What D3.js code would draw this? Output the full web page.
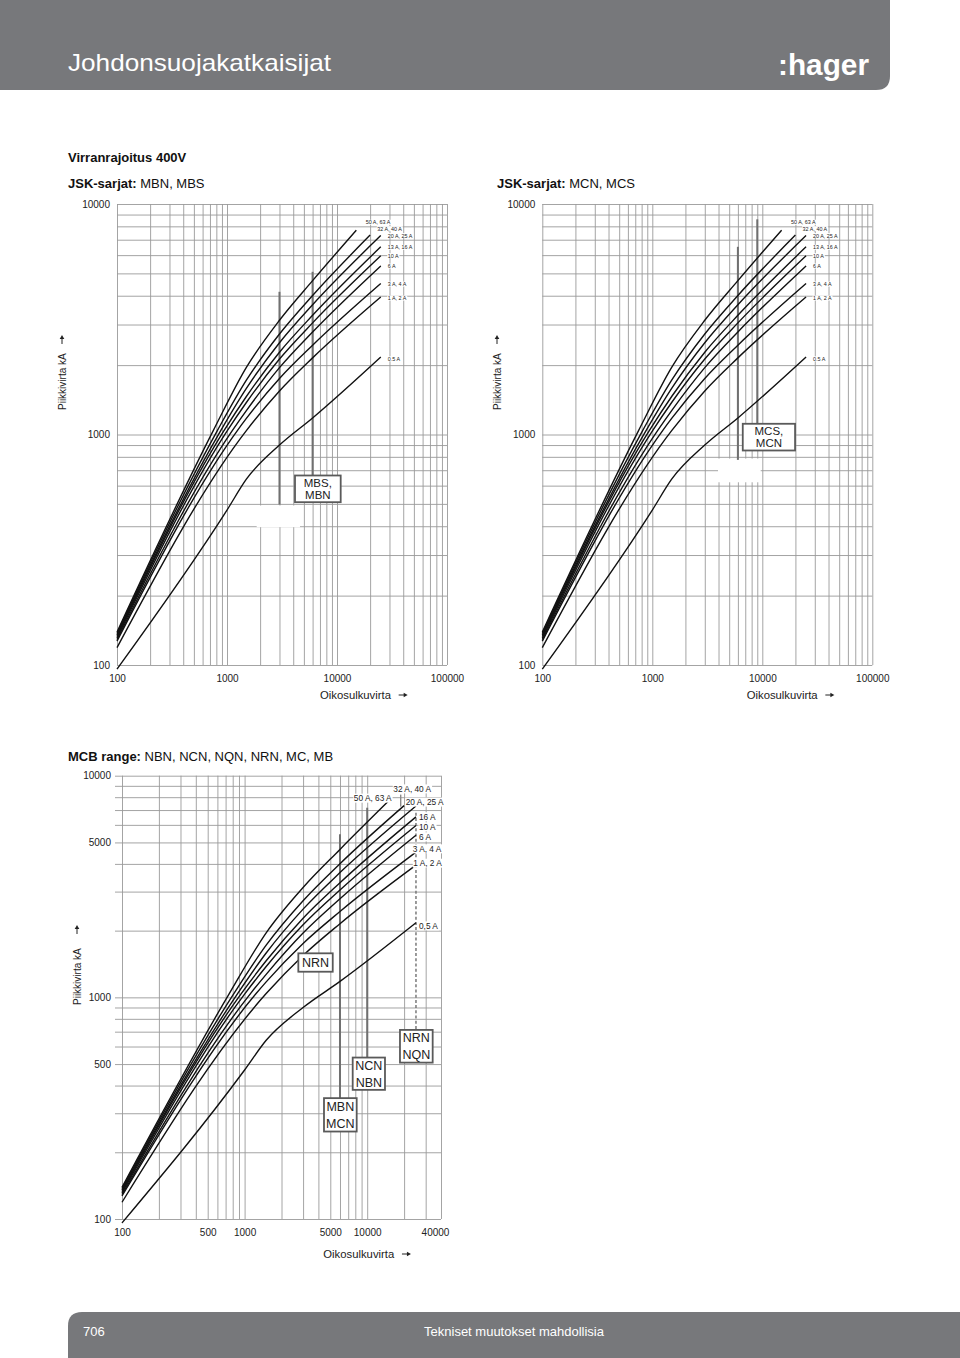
<!DOCTYPE html>
<html><head><meta charset="utf-8"><title>Virranrajoitus 400V</title>
<script src="https://cdn.jsdelivr.net/npm/d3@7/dist/d3.min.js"></script>
<style>
html,body{margin:0;padding:0;background:#fff;}
svg{display:block;}
text{font-family:"Liberation Sans",Arial,Helvetica,sans-serif;}
</style></head><body>
<svg id="page" width="960" height="1358"></svg>
<script>
// ---------------- DATA ----------------
const xTicksTop = [100, 1000, 10000, 100000];
const yTicksTop = [100, 1000, 10000];
const xTicksMCB = [100, 500, 1000, 5000, 10000, 40000];
const yTicksMCB = [100, 500, 1000, 5000, 10000];

const labelsJSK = ["50 A, 63 A", "32 A, 40 A", "20 A, 25 A", "13 A, 16 A", "10 A", "6 A", "3 A, 4 A", "1 A, 2 A", "0.5 A"];
const labelsMCB = ["50 A, 63 A", "32 A, 40 A", "20 A, 25 A", "16 A", "10 A", "6 A", "3 A, 4 A", "1 A, 2 A", "0,5 A"];

// [prospective short-circuit current, let-through peak] pairs
const curve50_63 = [[100,139],[750,1040],[1500,1955],[3000,3130],[6000,4650],[15000,7700]];
const curve32_40 = [[100,137],[817,1040],[1500,1720],[3000,2729],[6000,4010],[20000,7330]];
const curve20_25 = [[100,135],[877,1040],[1500,1585],[3000,2500],[6000,3655],[25000,7300]];
const curve13_16 = [[100,133],[939,1040],[1500,1462],[3000,2275],[6000,3290],[25000,6520]];
const curve10 = [[100,131],[1007,1040],[1500,1377],[3000,2125],[6000,3050],[25000,5960]];
const curve6 = [[100,129],[1117,1040],[1500,1270],[3000,1950],[6000,2785],[25000,5390]];
const curve3_4 = [[100,127],[1242,1040],[1500,1174],[3000,1750],[6000,2440],[25000,4520]];
const curve1_2 = [[100,119],[1500,1040],[3000,1545],[6000,2150],[25000,3950]];
const curve05 = [[100,96],[1000,470],[1500,640],[3000,900],[6000,1180],[25000,2170]];
const curves = [curve50_63, curve32_40, curve20_25, curve13_16, curve10, curve6, curve3_4, curve1_2, curve05];

// marker lines: [current, top peak value, bottom peak value]
const markersMBS = [[3000, 4160, 497], [6000, 5080, 664]];
const markersMCS = [[6000, 6520, 776], [9000, 8580, 1113]];
const markersMCB = [[6000, 5450, 351], [10000, 7170, 535], [25000, 6810, 713]];

const boxMBS = ["MBS,", "MBN"];
const boxMCS = ["MCS,", "MCN"];
const boxesMCB = [["MBN", "MCN"], ["NCN", "NBN"], ["NRN", "NQN"]];
const boxNRN = ["NRN"];
const boxNRNpos = [3790, 1580];

// ---------------- DRAWING ----------------
const svg = d3.select("#page");
const GREY = "#77787b";

// header band
svg.append("path").attr("d", "M0,0 H890 V76 Q890,90 876,90 H0 Z").attr("fill", GREY);
svg.append("text").attr("x", 68).attr("y", 71).attr("fill", "#fff")
  .attr("font-size", 24).attr("textLength", 263).attr("lengthAdjust", "spacingAndGlyphs")
  .text("Johdonsuojakatkaisijat");
svg.append("text").attr("x", 778).attr("y", 75).attr("fill", "#fff")
  .attr("font-size", 30).attr("font-weight", "bold").attr("textLength", 91).attr("lengthAdjust", "spacingAndGlyphs")
  .text(":hager");

// footer band
svg.append("path").attr("d", "M68,1358 V1326 Q68,1312 82,1312 H960 V1358 Z").attr("fill", GREY);
svg.append("text").attr("x", 83).attr("y", 1336).attr("fill", "#fff").attr("font-size", 13).text("706");
svg.append("text").attr("x", 514).attr("y", 1336).attr("fill", "#fff").attr("font-size", 13)
  .attr("text-anchor", "middle").text("Tekniset muutokset mahdollisia");

// headings
function heading(x, y, bold, normal, size) {
  const t = svg.append("text").attr("x", x).attr("y", y).attr("font-size", size).attr("fill", "#111");
  t.append("tspan").attr("font-weight", "bold").text(bold);
  if (normal) t.append("tspan").text(normal);
}
heading(68, 161.5, "Virranrajoitus 400V", "", 13);
heading(68, 187.5, "JSK-sarjat:", " MBN, MBS", 13);
heading(497, 187.5, "JSK-sarjat:", " MCN, MCS", 13);
heading(68, 760.5, "MCB range:", " NBN, NCN, NQN, NRN, MC, MB", 13);

// small arrow glyph (pointing along +x of its group)
function arrow(g, x, y) {
  g.append("line").attr("x1", x).attr("x2", x + 6.5).attr("y1", y).attr("y2", y)
    .attr("stroke", "#222").attr("stroke-width", 1);
  g.append("path").attr("d", `M${x + 5},${y - 2.3} L${x + 9},${y} L${x + 5},${y + 2.3} Z`).attr("fill", "#222");
}

function addLabel(g, x, y, txt, size, anchor) {
  const t = g.append("text").attr("x", x).attr("y", y).attr("dy", "0.35em")
    .attr("font-size", size).attr("fill", "#222").attr("text-anchor", anchor || "start").text(txt);
  const b = t.node().getBBox();
  g.insert("rect", () => t.node()).attr("x", b.x - 0.5).attr("y", b.y + 0.5)
    .attr("width", b.width + 1).attr("height", b.height - 1).attr("fill", "#fff");
  return t;
}

function drawBox(g, left, top, w, h, lines, size, lineGap) {
  g.append("rect").attr("x", left).attr("y", top).attr("width", w).attr("height", h)
    .attr("fill", "#fff").attr("stroke", "#5a5a5a").attr("stroke-width", 1.8);
  const n = lines.length;
  lines.forEach((s, i) => {
    g.append("text").attr("x", left + w / 2)
      .attr("y", top + h / 2 + (i - (n - 1) / 2) * lineGap).attr("dy", "0.36em")
      .attr("text-anchor", "middle").attr("font-size", size).attr("fill", "#222").text(s);
  });
}

function drawChart(cfg) {
  const x = d3.scaleLog().domain(cfg.xDomain).range([cfg.x0, cfg.x1]);
  const y = d3.scaleLog().domain([100, 10000]).range([cfg.y1, cfg.y0]);
  const g = svg.append("g");

  // vertical grid
  g.append("g").attr("transform", `translate(0,${cfg.y1})`)
    .call(d3.axisBottom(x).tickValues(x.ticks()).tickSize(-(cfg.y1 - cfg.y0)).tickFormat(""))
    .call(a => a.select(".domain").remove())
    .selectAll("line").attr("stroke", "#9a9a9a").attr("stroke-width", 0.9);
  // horizontal grid
  g.append("g").attr("transform", `translate(${cfg.x0 - cfg.ext},0)`)
    .call(d3.axisLeft(y).tickValues(y.ticks()).tickSize(-(cfg.x1 - cfg.x0 + cfg.ext)).tickFormat(""))
    .call(a => a.select(".domain").remove())
    .selectAll("line").attr("stroke", "#9a9a9a").attr("stroke-width", 0.9);

  // tick labels
  const xa = g.append("g").attr("transform", `translate(0,${cfg.y1})`)
    .call(d3.axisBottom(x).tickValues(cfg.xTicks).tickSize(0).tickPadding(cfg.xPad).tickFormat(d3.format("d")));
  xa.select(".domain").remove();
  xa.selectAll("text").attr("font-size", 10).attr("fill", "#222").attr("font-family", null)
    .attr("dx", d => (cfg.xShift && cfg.xShift[d]) || 0);
  const ya = g.append("g").attr("transform", `translate(${cfg.x0},0)`)
    .call(d3.axisLeft(y).tickValues(cfg.yTicks).tickSize(0).tickPadding(cfg.yPad).tickFormat(d3.format("d")));
  ya.select(".domain").remove();
  ya.selectAll("text").attr("font-size", 10).attr("fill", "#222").attr("font-family", null);

  // axis titles
  const xt = g.append("text").attr("x", cfg.x0 + cfg.xtDx).attr("y", cfg.y1 + cfg.xtDy).attr("dy", "0.35em")
    .attr("font-size", 11.3).attr("fill", "#222").text("Oikosulkuvirta");
  const xb = xt.node().getBBox();
  arrow(g, xb.x + xb.width + 7, cfg.y1 + cfg.xtDy);
  const yg = g.append("g").attr("transform", `translate(${cfg.ytX},${cfg.ytY}) rotate(-90)`);
  const yt = yg.append("text").attr("x", 0).attr("y", 0).attr("dy", "0.35em")
    .attr("font-size", 10).attr("fill", "#222").text("Piikkivirta kA");
  const yb = yt.node().getBBox();
  arrow(yg, yb.width + cfg.ytGap, 0);

  // white patches
  (cfg.patches || []).forEach(p => {
    const m = cfg.markers[p.m];
    g.append("rect").attr("x", x(m[0]) + p.dx).attr("y", y(m[2]) + p.dy)
      .attr("width", p.w).attr("height", p.h).attr("fill", "#fff");
  });

  // marker lines
  cfg.markers.forEach((m, i) => {
    g.append("line").attr("x1", x(m[0])).attr("x2", x(m[0]))
      .attr("y1", y(m[1])).attr("y2", y(m[2]))
      .attr("stroke", "#707070").attr("stroke-width", cfg.dashed && cfg.dashed[i] ? 1.4 : 2)
      .attr("stroke-dasharray", cfg.dashed && cfg.dashed[i] ? "3,2.2" : null);
  });

  // curves
  const line = d3.line().x(d => x(d[0])).y(d => y(d[1])).curve(d3.curveMonotoneX);
  g.append("g").selectAll("path").data(curves).join("path")
    .attr("d", line).attr("fill", "none").attr("stroke", "#111").attr("stroke-width", 1.4);

  // leader tick
  if (cfg.leader) {
    const e = curves[cfg.leader.c][curves[cfg.leader.c].length - 1];
    g.append("line").attr("x1", x(e[0]) + cfg.leader.dx).attr("x2", x(e[0]) + cfg.leader.dx)
      .attr("y1", y(e[1]) + cfg.leader.y1).attr("y2", y(e[1]) + cfg.leader.y2)
      .attr("stroke", "#8a8a8a").attr("stroke-width", 1.4);
  }

  // curve labels
  const lg = g.append("g");
  curves.forEach((c, i) => {
    const e = c[c.length - 1];
    const o = cfg.labelOff[i];
    addLabel(lg, x(e[0]) + o[0], y(e[1]) + o[1], cfg.labels[i], cfg.labelSize, o[2]);
  });

  // boxes
  cfg.boxes.forEach(b => {
    const m = cfg.markers[b.m];
    drawBox(g, x(m[0]) + b.dx, y(m[2]), b.w, b.h, b.lines, b.size, b.gap);
  });
  if (cfg.extraBox) {
    const b = cfg.extraBox;
    drawBox(g, x(b.pos[0]) - b.w / 2, y(b.pos[1]), b.w, b.h, b.lines, b.size, b.gap);
  }
}

const topOff = [[9.3,-7.8],[7.2,-6.3],[7,0.2],[7,0.6],[7,0],[7,0.3],[7,0.7],[7,1.2],[7,2]];

drawChart({
  x0: 117, x1: 447, y0: 204, y1: 665, ext: 0, xDomain: [100, 100000],
  xTicks: xTicksTop, yTicks: yTicksTop, xPad: 9.5, yPad: 7,
  xtDx: 203, xtDy: 30, ytX: 62, ytY: 410, ytGap: 9,
  labels: labelsJSK, labelSize: 5.4, labelOff: topOff,
  markers: markersMBS,
  patches: [{m: 0, dx: -22.8, dy: 1, w: 43.3, h: 21.7}],
  boxes: [{m: 1, dx: -17.6, w: 45.7, h: 26.7, lines: boxMBS, size: 11.5, gap: 11.6}]
});

drawChart({
  x0: 542.3, x1: 872.3, y0: 204, y1: 665, ext: 0, xDomain: [100, 100000],
  xTicks: xTicksTop, yTicks: yTicksTop, xPad: 9.5, yPad: 7,
  xtDx: 204.4, xtDy: 30, ytX: 497, ytY: 410, ytGap: 9,
  labels: labelsJSK, labelSize: 5.4, labelOff: topOff,
  markers: markersMCS,
  patches: [{m: 0, dx: -19.9, dy: -1.3, w: 42.7, h: 23.7}],
  boxes: [{m: 1, dx: -14.5, w: 52.3, h: 26.7, lines: boxMCS, size: 11.5, gap: 11.6}]
});

drawChart({
  x0: 122, x1: 441, y0: 775.7, y1: 1219, ext: 7, xDomain: [100, 40000],
  xTicks: xTicksMCB, yTicks: yTicksMCB, xPad: 9.5, yPad: 11,
  xShift: {40000: -6},
  xtDx: 201.3, xtDy: 35, ytX: 77, ytY: 1005, ytGap: 14,
  labels: labelsMCB, labelSize: 8.3,
  labelOff: [[2.9,-2.6,"end"],[-10.8,-16.6],[-10.3,-3.8],[3,0],[3,1.5],[3,1.8],[-3.3,-3.2],[-2.7,-1.8],[3,3.2]],
  leader: {c: 1, dx: -3.4, y1: -11, y2: 1},
  markers: markersMCB, dashed: [false, false, true],
  boxes: [
    {m: 0, dx: -16, w: 32.7, h: 33.4, lines: boxesMCB[0], size: 12.5, gap: 16.6},
    {m: 1, dx: -14.5, w: 32.3, h: 32.3, lines: boxesMCB[1], size: 12.5, gap: 16.6},
    {m: 2, dx: -16, w: 32.7, h: 32.7, lines: boxesMCB[2], size: 12.5, gap: 16.6}
  ],
  extraBox: {pos: boxNRNpos, w: 34.4, h: 18.4, lines: boxNRN, size: 12.5, gap: 0}
});
</script></body></html>
